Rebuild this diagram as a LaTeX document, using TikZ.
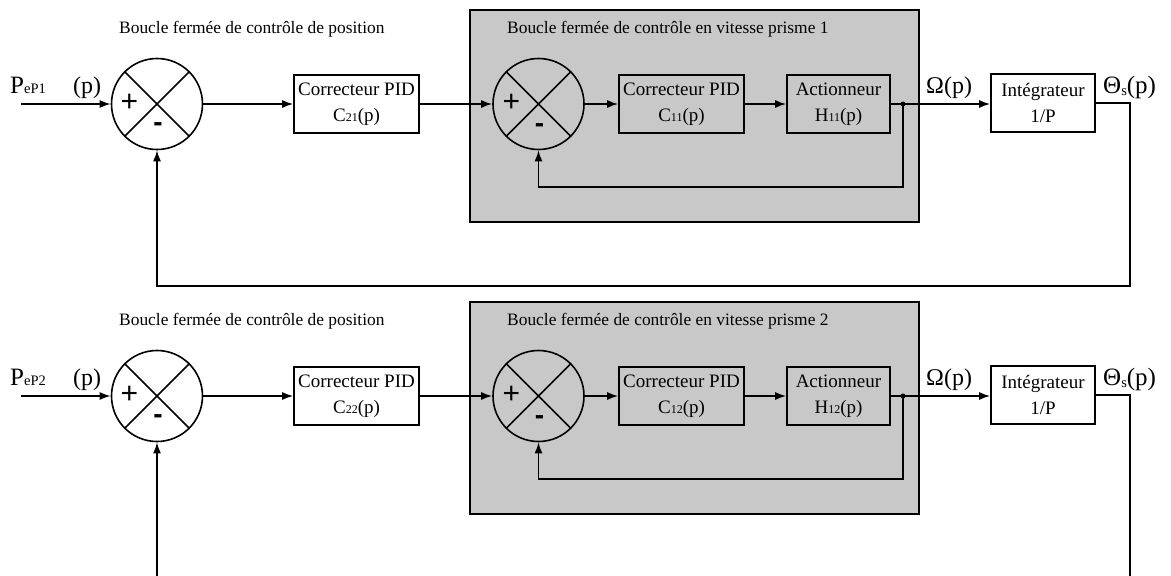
\documentclass[tikz,border=0pt]{standalone}
\usepackage{fontspec}
\setmainfont{Liberation Serif}
\setsansfont{Liberation Sans}
\usetikzlibrary{arrows.meta}
\definecolor{grayfill}{RGB}{200,200,200}
\begin{document}
\begin{tikzpicture}[x=1pt,y=-1pt,
  wire/.style={line width=1.6pt},
  arr/.style={wire,-{Latex[length=11pt,width=8pt]}},
  blk/.style={draw,line width=1.6pt,minimum height=58pt,align=center,inner sep=0pt,
    font=\fontsize{19}{26}\selectfont},
  sumc/.style={circle,draw,line width=1.6pt,minimum size=91pt,inner sep=0pt},
  plus/.style={font=\sffamily\fontsize{30}{30}\selectfont,inner sep=0pt},
  minus/.style={font=\sffamily\bfseries\fontsize{28}{28}\selectfont,inner sep=0pt},
  title/.style={font=\fontsize{17.4}{20}\selectfont,anchor=base west,inner sep=0pt},
  big/.style={font=\fontsize{24}{28}\selectfont,anchor=base west,inner sep=0pt},
  dotn/.style={circle,fill,inner sep=0pt,minimum size=5pt}
]
\useasboundingbox (0,0) rectangle (1171,576);
\newcommand{\sm}[1]{{\fontsize{12}{14}\selectfont #1}}
\newcommand{\smb}[1]{{\fontsize{14.5}{16}\selectfont #1}}
\foreach \r/\oy/\ca/\cb/\pp in {1/0/21/11/1, 2/292/22/12/2}{
  % gray box
  \node[draw,line width=1.6pt,fill=grayfill,minimum width=449pt,minimum height=212pt,inner sep=0pt]
    (gb\r) at (694.5,116+\oy) {};
  % titles
  \node[title] (t\r a) at (119,33+\oy) {Boucle fermée de contrôle de position};
  \node[title] (t\r b) at (507,33+\oy) {Boucle fermée de contrôle en vitesse prisme \pp};
  % summing junctions
  \node[sumc] (sa\r) at (157,104+\oy) {};
  \node[sumc] (sb\r) at (538.5,104+\oy) {};
  \draw[wire] (sa\r.north west) -- (sa\r.south east) (sa\r.north east) -- (sa\r.south west);
  \draw[wire] (sb\r.north west) -- (sb\r.south east) (sb\r.north east) -- (sb\r.south west);
  \node[plus] (pa\r) at ([shift={(-27.5,-1)}]sa\r.center) {+};
  \node[minus] (ma\r) at ([shift={(1,23)}]sa\r.center) {-};
  \node[plus] (pb\r) at ([shift={(-27,-1)}]sb\r.center) {+};
  \node[minus] (mb\r) at ([shift={(1,24)}]sb\r.center) {-};
  % blocks
  \node[blk,fill=white,minimum width=125pt] (c2\r) at (356.5,104+\oy)
    {Correcteur PID\\C\sm{\ca}(p)};
  \node[blk,fill=grayfill,minimum width=125pt] (c1\r) at (681.5,104+\oy)
    {Correcteur PID\\C\sm{\cb}(p)};
  \node[blk,fill=grayfill,minimum width=103pt] (h\r) at (838.5,104+\oy)
    {Actionneur\\H\sm{\cb}(p)};
  \node[blk,fill=white,minimum width=104pt] (int\r) at (1043,103+\oy)
    {Intégrateur\\1/P};
  \node[dotn] (dot\r) at (903,104+\oy) {};
  % input
  \coordinate (in\r) at (21,104+\oy);
  \node[big,font=\fontsize{25}{28}\selectfont] (lp\r) at (10,93+\oy) {P\smb{eP\pp}};
  \node[big] (lpp\r) at (73,93+\oy) {(p)};
  \node[big] (om\r) at (926,93+\oy) {Ω(p)};
  \node[big,font=\fontsize{25}{28}\selectfont] (th\r) at (1103,93+\oy) {Θ\raisebox{-2pt}{\smb{s}}(p)};
  % connectors
  \draw[arr] (in\r) -- (sa\r.west);
  \draw[arr] (sa\r.east) -- (c2\r.west);
  \draw[arr] (c2\r.east) -- (sb\r.west);
  \draw[arr] (sb\r.east) -- (c1\r.west);
  \draw[arr] (c1\r.east) -- (h\r.west);
  \draw[arr] (h\r.east) -- (int\r.west |- h\r.east);
  \coordinate (ic\r) at (903,187+\oy);
  \draw[arr] (dot\r.center) -- (ic\r) -| (sb\r.south);
}
% outer loops
\coordinate (oc1) at (1130,286);
\draw[arr] (int1.east) -| (oc1) -| (sa1.south);
\coordinate (oc2) at (1130,577);
\coordinate (ol2) at (157,577);
\draw[wire] (int2.east) -| (oc2);
\draw[arr] (ol2) -- (sa2.south);
\end{tikzpicture}
\end{document}
